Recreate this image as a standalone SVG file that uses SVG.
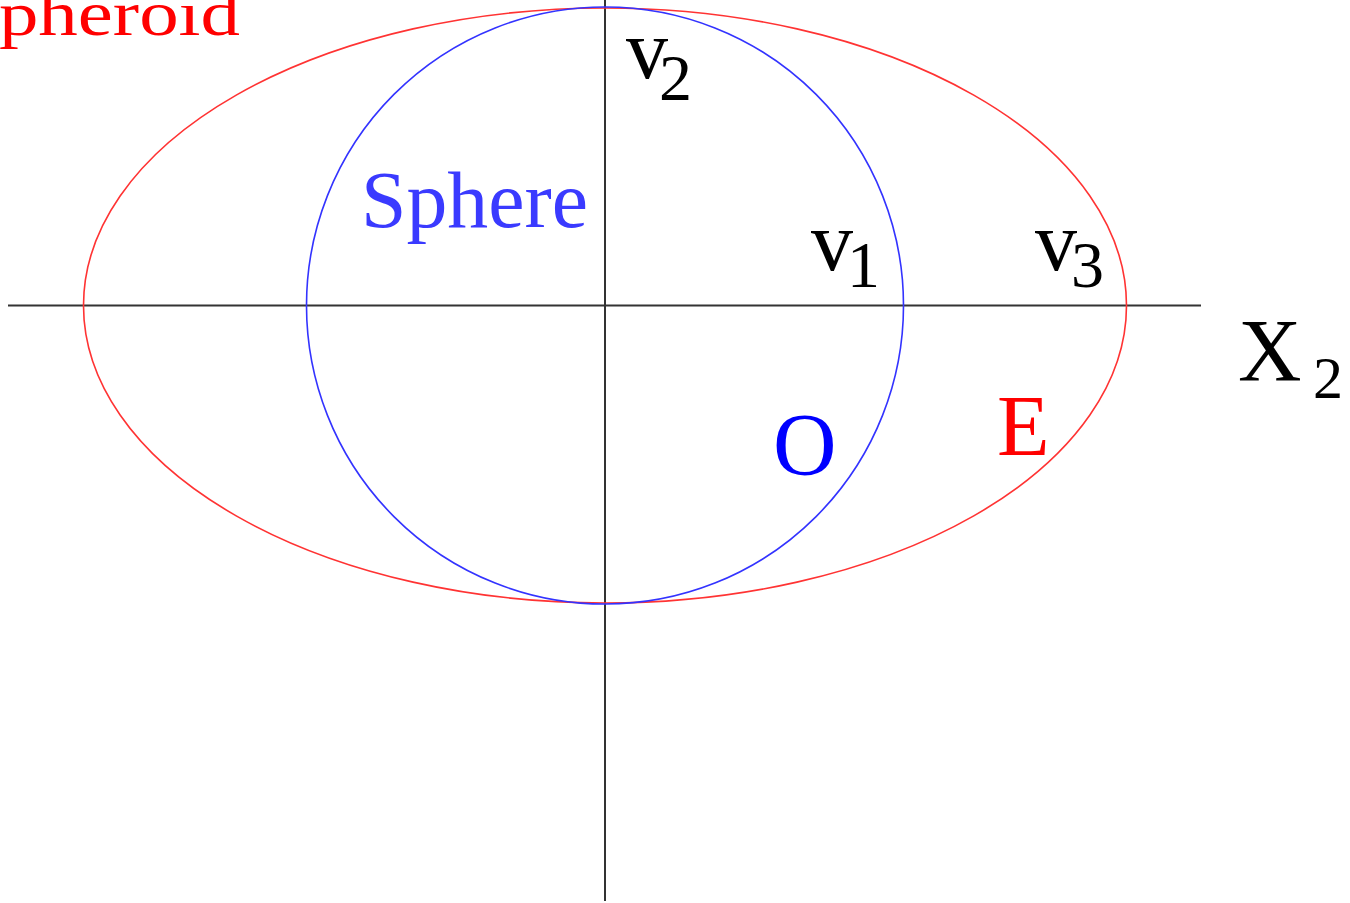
<svg xmlns="http://www.w3.org/2000/svg" width="1350" height="903" viewBox="0 0 1350 903">
<style>
.t{font-family:"Liberation Serif","DejaVu Serif",serif;}
.axis{stroke:#333;stroke-width:2;fill:none;}
.lbl{fill:#000;font-size:84px;}
.sub{fill:#000;font-size:66px;}
</style>
<rect width="1350" height="903" fill="#fff"/>
<g id="connectors">
<line class="axis" x1="8" y1="305.5" x2="1201" y2="305.5"/>
<line class="axis" x1="605" y1="0" x2="605" y2="901"/>
</g>
<g id="spheroid">
<ellipse cx="605" cy="305.5" rx="521.5" ry="297.5" fill="none" stroke="#ff3333" stroke-width="1.6"/>
<text class="t" x="-45" y="35" font-size="64" fill="#ff0000" textLength="285" lengthAdjust="spacingAndGlyphs">Spheroid</text>
<text class="t" x="997" y="455" font-size="86" fill="#ff0000">E</text>
</g>
<g id="sphere">
<circle cx="605" cy="305.5" r="298.5" fill="none" stroke="#3333ff" stroke-width="1.6"/>
<text class="t" x="361" y="227" font-size="80" fill="#3a3aff" textLength="227" lengthAdjust="spacingAndGlyphs">Sphere</text>
<text class="t" x="773" y="474" font-size="88" fill="#0000ff">O</text>
</g>
<g id="v2"><text class="t lbl" x="626" y="78" textLength="42" lengthAdjust="spacingAndGlyphs">v</text><text class="t sub" x="659" y="100">2</text></g>
<g id="v1"><text class="t lbl" x="811" y="270" textLength="42" lengthAdjust="spacingAndGlyphs">v</text><text class="t sub" x="847" y="287">1</text></g>
<g id="v3"><text class="t lbl" x="1035" y="270" textLength="42" lengthAdjust="spacingAndGlyphs">v</text><text class="t sub" x="1071" y="287">3</text></g>
<g id="x2"><text class="t" x="1238" y="380" font-size="88" fill="#000">X</text><text class="t" x="1313" y="398" font-size="60" fill="#000">2</text></g>
</svg>
